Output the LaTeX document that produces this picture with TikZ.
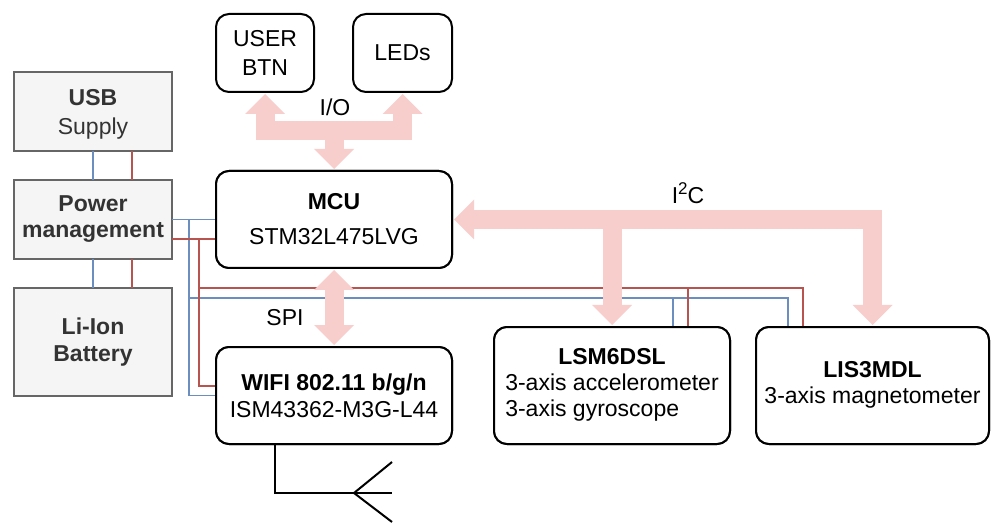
\documentclass[tikz,border=0pt]{standalone}
\usepackage{fontspec}
\setmainfont{Liberation Sans}
\usetikzlibrary{calc,arrows.meta}
\definecolor{pinkc}{HTML}{F8CECC}
\definecolor{bluec}{HTML}{6C8EBF}
\definecolor{redc}{HTML}{B85450}
\definecolor{grayfill}{HTML}{F5F5F5}
\definecolor{grayline}{HTML}{666666}
\definecolor{graytext}{HTML}{333333}
\newcommand{\sensortext}[2]{\begin{tabular}{@{}l@{}}\multicolumn{1}{@{}c@{}}{\textbf{#1}}\\#2\end{tabular}}
\begin{document}
\begin{tikzpicture}[x=0.5pt,y=-0.5pt,
  blk/.style={draw=black, line width=1pt, rounded corners=6.5pt, fill=white, align=center,
    inner sep=0pt, outer sep=0pt, font=\fontsize{11.5}{13}\selectfont},
  pwr/.style={draw=grayline, line width=1pt, fill=grayfill, align=center, inner sep=0pt,
    outer sep=0pt, text=graytext, font=\fontsize{11.5}{13}\selectfont},
  bl/.style={draw=bluec, line width=0.75pt},
  rd/.style={draw=redc, line width=0.75pt},
  tipp/.tip={Triangle[width=20pt,length=10pt,line width=0pt]},
  bus/.style={draw=pinkc, line width=9.5pt, line join=miter, shorten <=1pt, shorten >=1pt},
  ant/.style={draw=black, line width=1pt},
  lbl/.style={font=\fontsize{11.5}{13}\selectfont, inner sep=0pt}
]
\path[use as bounding box] (0,0) rectangle (994,523);

\node[pwr, minimum width=79pt, minimum height=39.5pt] (usb) at (93,111.5) {\textbf{USB}\\[1.5pt]\smash{Supply}};
\node[pwr, font=\fontsize{11.5}{13}\selectfont\bfseries, minimum width=79pt, minimum height=39.5pt] (pm) at (93,219.5) {Power\\management};
\node[pwr, font=\fontsize{11.5}{13}\selectfont\bfseries, minimum width=79pt, minimum height=54pt] (bat) at (93,342) {Li-Ion\\[0.5pt]Battery};

% power lines
\draw[bl] (usb.south) -- (pm.north);
\draw[rd] ($(usb.south)+(39,0)$) -- ($(pm.north)+(39,0)$);
\draw[bl] (pm.south) -- (bat.north);
\draw[rd] ($(pm.south)+(39,0)$) -- ($(bat.north)+(39,0)$);

\path (334,219.5) coordinate (mcuc) (334,395.5) coordinate (wific)
      (612,385.5) coordinate (lsmc) (872.5,385.5) coordinate (lisc);

\node[blk, minimum width=118pt, minimum height=48.5pt] (mcu) at (mcuc) {\textbf{MCU}\\[4.5pt]STM32L475LVG};
\node[blk, minimum width=118pt, minimum height=48.5pt] (wifi) at (wific) {\textbf{WIFI 802.11 b/g/n}\\[0.5pt]ISM43362-M3G-L44};
\node[blk, minimum width=118pt, minimum height=58.5pt] (lsm) at (lsmc) {\sensortext{LSM6DSL}{3-axis accelerometer\\3-axis gyroscope}};
\node[blk, minimum width=116.5pt, minimum height=58.5pt] (lis) at (lisc) {\sensortext{LIS3MDL}{3-axis magnetometer}};
\node[blk, minimum width=49pt, minimum height=39pt] (btn) at (265,53) {USER\\[1.5pt]BTN};
\node[blk, minimum width=49.5pt, minimum height=39pt] (leds) at (402.5,53) {LEDs};

\draw[bl] (pm.east) -- (mcu.west);
\draw[bl] ($(pm.east)+(17,0)$) |- (wifi.west);
\draw[bl] ($(pm.east)+(17,0)$) |- ($(lis.north west)+(32,-29)$) -- ($(lis.north west)+(32,0)$);
\draw[bl] ($(lsm.north west)+(179,-29)$) -- ($(lsm.north west)+(179,0)$);
\draw[rd] ($(pm.east)+(0,19.5)$) -- ($(mcu.west)+(0,19.5)$);
\draw[rd] ($(pm.east)+(27,19.5)$) |- ($(wifi.west)+(0,-9.5)$);
\draw[rd] ($(pm.east)+(27,19.5)$) |- ($(lis.north west)+(47,-39)$) -- ($(lis.north west)+(47,0)$);
\draw[rd] ($(lsm.north west)+(194,-39)$) -- ($(lsm.north west)+(194,0)$);

% buses
\draw[bus, tipp-tipp] (btn.south) -- ++(0,39) -| (leds.south);
\draw[bus, -tipp] ($(mcu.north)+(0,-40)$) -- (mcu.north);
\draw[bus, tipp-tipp] (mcu.south) -- (wifi.north);
\draw[bus, tipp-tipp] (mcu.east) -| (lis.north);
\draw[bus, -tipp] (lsm.north |- mcu.east) -- (lsm.north);

% redraw boxes on top of buses
\node[blk, minimum width=118pt, minimum height=48.5pt] at (mcuc) {\textbf{MCU}\\[4.5pt]STM32L475LVG};
\node[blk, minimum width=118pt, minimum height=48.5pt] at (wific) {\textbf{WIFI 802.11 b/g/n}\\[0.5pt]ISM43362-M3G-L44};
\node[blk, minimum width=118pt, minimum height=58.5pt] at (lsmc) {\sensortext{LSM6DSL}{3-axis accelerometer\\3-axis gyroscope}};
\node[blk, minimum width=116.5pt, minimum height=58.5pt] at (lisc) {\sensortext{LIS3MDL}{3-axis magnetometer}};

% labels
\node[lbl] (io) at (335,107) {I/O};
\node[lbl] (spi) at (285,318) {SPI};
\node[lbl] (i2c) at (688,193) {I\raisebox{4.5pt}{\fontsize{8.5}{9}\selectfont 2}C};

% antenna
\coordinate (a0) at ($(wifi.south west)+(59,0)$);
\coordinate (a1) at ($(wifi.south west)+(176,49)$);
\coordinate (a2) at ($(wifi.south west)+(138,49)$);
\coordinate (a3) at ($(wifi.south west)+(176,18)$);
\coordinate (a4) at ($(wifi.south west)+(176,78)$);
\draw[ant] (a0) |- (a1);
\draw[ant] (a3) -- (a2) -- (a4);
\end{tikzpicture}
\end{document}
